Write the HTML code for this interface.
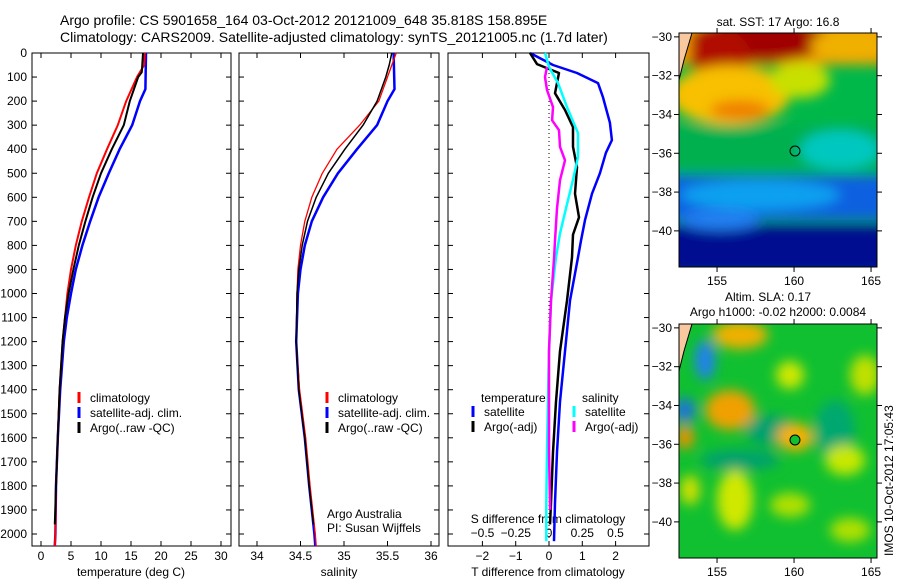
<!DOCTYPE html>
<html><head><meta charset="utf-8"><style>
body{margin:0;background:#fff}
svg{display:block;font-family:"Liberation Sans",sans-serif}
</style></head><body>
<svg id="fig" width="900" height="580" viewBox="0 0 900 580">
<defs>
<filter id="blur" x="-10%" y="-10%" width="120%" height="120%"><feGaussianBlur stdDeviation="6"/></filter>
<clipPath id="cm1"><rect x="679" y="33" width="198" height="234"/></clipPath>
<clipPath id="cm2"><rect x="679" y="324" width="198" height="234"/></clipPath>
</defs>
<text x="60" y="25" font-size="14">Argo profile: CS 5901658_164 03-Oct-2012 20121009_648 35.818S 158.895E</text>
<text x="60" y="42" font-size="14">Climatology: CARS2009. Satellite-adjusted climatology: synTS_20121005.nc (1.7d later)</text>

<g>
<text x="778" y="26" font-size="12" text-anchor="middle">sat. SST: 17 Argo: 16.8</text>
<g clip-path="url(#cm1)">
<rect x="679" y="33" width="198" height="234" fill="#00b84a"/>
<g filter="url(#blur)">
<rect x="660" y="20" width="240" height="45" fill="#f0a000"/>
<ellipse cx="760" cy="40" rx="70" ry="22" fill="#a00000"/>
<ellipse cx="720" cy="55" rx="30" ry="25" fill="#b01000"/>
<ellipse cx="850" cy="45" rx="40" ry="15" fill="#f0b000"/>
<ellipse cx="730" cy="95" rx="60" ry="30" fill="#f8c000"/>
<ellipse cx="740" cy="110" rx="30" ry="10" fill="#f08000"/>
<ellipse cx="800" cy="80" rx="30" ry="18" fill="#c8e000"/>
<rect x="660" y="125" width="240" height="45" fill="#00b050"/>
<ellipse cx="840" cy="150" rx="40" ry="20" fill="#00c8c0"/>
<rect x="660" y="175" width="240" height="45" fill="#1060e0"/>
<ellipse cx="760" cy="195" rx="80" ry="15" fill="#10a0f0"/>
<rect x="660" y="225" width="240" height="50" fill="#000c90"/>
<ellipse cx="720" cy="220" rx="40" ry="10" fill="#2080f0"/>
</g>
<polygon points="679,33 692,33 684,60 679,80" fill="#f8c8a0"/>
<polyline points="692,33 684,60 679,80" fill="none" stroke="#000" stroke-width="1"/>
</g>
<circle cx="795" cy="151" r="5" fill="none" stroke="#000" stroke-width="1"/>
<rect x="679" y="33" width="198" height="234" fill="none" stroke="#000"/>
</g>

<g>
<text x="768" y="301" font-size="12" text-anchor="middle">Altim. SLA: 0.17</text>
<text x="778" y="316" font-size="12" text-anchor="middle">Argo h1000: -0.02 h2000: 0.0084</text>
<g clip-path="url(#cm2)">
<rect x="679" y="324" width="198" height="234" fill="#10c030"/>
<g filter="url(#blur)">
<ellipse cx="740" cy="335" rx="28" ry="14" fill="#f0b000"/>
<ellipse cx="705" cy="360" rx="10" ry="20" fill="#2080f0"/>
<ellipse cx="685" cy="410" rx="10" ry="12" fill="#2070e0"/>
<ellipse cx="685" cy="437" rx="9" ry="12" fill="#f09000"/>
<ellipse cx="730" cy="410" rx="25" ry="20" fill="#f0a000"/>
<ellipse cx="770" cy="430" rx="25" ry="15" fill="#00a070"/>
<ellipse cx="795" cy="437" rx="18" ry="14" fill="#f8b000"/>
<ellipse cx="790" cy="375" rx="14" ry="14" fill="#d0e800"/>
<ellipse cx="835" cy="430" rx="20" ry="30" fill="#00a870"/>
<ellipse cx="865" cy="375" rx="15" ry="20" fill="#c0e000"/>
<ellipse cx="845" cy="460" rx="20" ry="15" fill="#c8e800"/>
<ellipse cx="735" cy="500" rx="18" ry="30" fill="#d0e800"/>
<ellipse cx="690" cy="490" rx="10" ry="15" fill="#d0e000"/>
<ellipse cx="790" cy="505" rx="20" ry="12" fill="#b0e000"/>
<ellipse cx="850" cy="530" rx="20" ry="12" fill="#b0e000"/>
<ellipse cx="740" cy="460" rx="40" ry="10" fill="#00a070"/>
</g>
<polygon points="679,324 692,324 684,351 679,371" fill="#f8c8a0"/>
<polyline points="692,324 684,351 679,371" fill="none" stroke="#000" stroke-width="1"/>
</g>
<circle cx="795" cy="440" r="5" fill="#10c030" stroke="#000" stroke-width="1"/>
<rect x="679" y="324" width="198" height="234" fill="none" stroke="#000"/>
</g>
<text transform="translate(893,556) rotate(-90)" font-size="12">IMOS 10-Oct-2012 17:05:43</text>
<g id="dyn"></g>
</svg>
<script>
const climTDepth=[0,50,100,200,300,400,500,600,700,800,900,1000,1200,1400,1600,1800,2000,2050];
const climTVal=[17.3,17.2,16,14.2,12.8,11,9.3,8,6.8,5.8,5,4.4,3.6,3.1,2.8,2.5,2.4,2.3];
const satTDepth=[0,150,200,300,400,500,600,700,800,900,1000,1100,1200,1400,1600,1800,2000,2050];
const satTVal=[17.5,17.4,16.5,15.2,13.1,11.3,9.6,8.2,6.9,5.8,5,4.3,3.8,3.2,2.8,2.5,2.4,2.3];
const argoTDepth=[0,80,100,200,300,400,500,600,700,800,900,1000,1100,1200,1400,1600,1800,1960];
const argoTVal=[17,16.8,16.2,14.8,13.8,11.8,10,8.6,7.4,6.3,5.4,4.6,4,3.6,3.1,2.8,2.5,2.3];
const climSDepth=[0,100,200,300,400,500,600,700,800,900,1000,1100,1200,1400,1600,1800,2000,2050];
const climSVal=[35.6,35.5,35.4,35.18,34.92,34.75,34.63,34.55,34.5,34.47,34.46,34.455,34.45,34.49,34.56,34.61,34.67,34.68];
const satSDepth=[0,150,200,300,400,500,600,700,800,900,1000,1200,1400,1600,1800,2000,2050];
const satSVal=[35.57,35.58,35.5,35.38,35.15,34.93,34.76,34.63,34.55,34.5,34.47,34.45,34.48,34.55,34.6,34.66,34.67];
const argoSDepth=[0,50,100,200,300,400,500,600,700,800,900,1000,1200,1400,1600,1800,1960];
const argoSVal=[35.55,35.52,35.48,35.38,35.22,35.01,34.82,34.68,34.58,34.52,34.48,34.46,34.45,34.48,34.55,34.6,34.65];
const dTSatDepth=[0,50,83,125,183,290,362,415,500,585,695,780,850,1030,1240,1450,1660,1870,2030];
const dTSatVal=[-0.57,0.12,0.84,1.47,1.62,1.83,1.89,1.71,1.53,1.29,1.08,0.96,0.87,0.63,0.48,0.33,0.24,0.18,0.15];
const dTArgoDepth=[0,46,83,167,237,308,390,475,585,683,755,850,1030,1240,1450,1660,1870,1960];
const dTArgoVal=[-0.57,-0.36,0.3,0.18,0.48,0.72,0.72,0.84,0.78,0.9,0.72,0.69,0.54,0.33,0.21,0.12,0.06,0.03];
const dSSatDepth=[0,58,125,225,333,433,529,646,750,850,1030,1240,1450,1660,1870,2030];
const dSSatVal=[-0.03,0,0.068,0.135,0.218,0.218,0.18,0.128,0.083,0.053,0.015,0,-0.008,-0.015,-0.02,-0.02];
const dSArgoDepth=[58,100,154,225,280,321,390,446,529,646,780,850,1030,1240,1450,1660,1900];
const dSArgoVal=[-0.015,-0.03,-0.015,0.03,0.023,0.075,0.083,0.12,0.083,0.06,0.045,0.038,0.015,0,0,0,0.008];
const depthTicks=[0,100,200,300,400,500,600,700,800,900,1000,1100,1200,1300,1400,1500,1600,1700,1800,1900,2000];
const tempTicks=[0,5,10,15,20,25,30];
const salTicks=[34,34.5,35,35.5,36];
const dTTicks=[-2,-1,0,1,2];
const dSTicks=[-0.5,-0.25,0,0.25,0.5];

const NS='http://www.w3.org/2000/svg';
const g=document.getElementById('dyn');
function el(t,a,p){const e=document.createElementNS(NS,t);for(const k in a)e.setAttribute(k,a[k]);(p||g).appendChild(e);return e;}
const TOP=53,BOT=546;
const yD=d=>TOP+d*0.2405;
const xT=v=>41+v*6.0;
const xS=v=>257+(v-34)*87;
const xdT=v=>549+v*33.3;
const xdS=v=>549+v*133;
const panels=[[32,231],[239,439],[448,649]];

function line(depths,vals,fx,color,w,name){
  const pts=depths.map((d,i)=>fx(vals[i]).toFixed(1)+','+yD(d).toFixed(1)).join(' ');
  const e=el('polyline',{points:pts,fill:'none',stroke:color,'stroke-width':w,'stroke-linejoin':'round'});
  
  
}
function text(x,y,s,anchor,name,size){
  const t=el('text',{x:x,y:y,'font-size':size||12,'text-anchor':anchor||'start'});
  t.textContent=s;
  
  
  return t;
}
panels.forEach((p,pi)=>{
  const r=el('rect',{x:p[0],y:TOP,width:p[1]-p[0],height:BOT-TOP,fill:'none',stroke:'#000','stroke-width':1});
  
  
  depthTicks.forEach(d=>{
    el('line',{x1:p[0],x2:p[0]+5,y1:yD(d),y2:yD(d),stroke:'#000'});
    el('line',{x1:p[1]-5,x2:p[1],y1:yD(d),y2:yD(d),stroke:'#000'});
  });
});
depthTicks.forEach(d=>text(27,yD(d)+4,String(d),'end','depth-tick-label'));
function xticks(ticks,fx,p,y,name,top){
  ticks.forEach(v=>{
    const x=fx(v);
    el('line',{x1:x,x2:x,y1:BOT,y2:BOT-5,stroke:'#000'});
    if(top) el('line',{x1:x,x2:x,y1:TOP,y2:TOP+5,stroke:'#000'});
    text(x,y,String(v).replace('-','\u2212'),'middle',name);
  });
}
xticks(tempTicks,xT,panels[0],560,'temperature-tick-label',true);
xticks(salTicks,xS,panels[1],560,'salinity-tick-label',true);
xticks(dTTicks,xdT,panels[2],560,'t-diff-tick-label',true);
dSTicks.forEach(v=>text(xdS(v),537,String(v).replace('-','\u2212'),'middle','s-diff-tick-label'));
text(131,576,'temperature (deg C)','middle','temperature-axis-title');
text(339,576,'salinity','middle','salinity-axis-title');
text(548,576,'T difference from climatology','middle','t-diff-axis-title');
text(548,523,'S difference from climatology','middle','s-diff-axis-title');
const z=el('line',{x1:549,x2:549,y1:TOP,y2:BOT,stroke:'#000','stroke-dasharray':'1,3'});


line(satTDepth,satTVal,xT,'#0000ff',2.5,'temp-satellite-line');
line(climTDepth,climTVal,xT,'#ff0000',2,'temp-climatology-line');
line(argoTDepth,argoTVal,xT,'#000',2,'temp-argo-line');
line(satSDepth,satSVal,xS,'#0000ff',2.5,'sal-satellite-line');
line(climSDepth,climSVal,xS,'#ff0000',1.3,'sal-climatology-line');
line(argoSDepth,argoSVal,xS,'#000',1.5,'sal-argo-line');
line(dTSatDepth,dTSatVal,xdT,'#0000ff',2.5,'tdiff-satellite-line');
line(dTArgoDepth,dTArgoVal,xdT,'#000',2.5,'tdiff-argo-line');
line(dSSatDepth,dSSatVal,xdS,'#00ffff',2.5,'sdiff-satellite-line');
line(dSArgoDepth,dSArgoVal,xdS,'#ff00ff',2.5,'sdiff-argo-line');
function legend(x,y,color,label,name){
  const b=el('line',{x1:x,x2:x,y1:y-10,y2:y+1,stroke:color,'stroke-width':3});
  
  
  text(x+11,y,label,'start',name);
}
[[0,'#ff0000','climatology'],[1,'#0000ff','satellite-adj. clim.'],[2,'#000','Argo(..raw -QC)']].forEach(a=>{
  legend(79,402+a[0]*15,a[1],a[2],'legend-temp-entry');
  legend(327,402+a[0]*15,a[1],a[2],'legend-sal-entry');
});
text(481,402,'temperature','start','legend-temperature-header');
text(582,402,'salinity','start','legend-salinity-header');
legend(473,416,'#0000ff','satellite','legend-tdiff-satellite');
legend(473,431,'#000','Argo(-adj)','legend-tdiff-argo');
legend(574,416,'#00ffff','satellite','legend-sdiff-satellite');
legend(574,431,'#ff00ff','Argo(-adj)','legend-sdiff-argo');
text(327,518,'Argo Australia','start','credit-line-1');
text(327,532,'PI: Susan Wijffels','start','credit-line-2');
const lats=[-30,-32,-34,-36,-38,-40];
const lons=[155,160,165];
[[33,'sst'],[324,'sla']].forEach(m=>{
  const top=m[0];
  lats.forEach(la=>{
    const y=top+(-29.8-la)*19.4;
    el('line',{x1:674,x2:679,y1:y,y2:y,stroke:'#000'});
    el('line',{x1:877,x2:882,y1:y,y2:y,stroke:'#000'});
    text(672,y+4,String(la).replace('-','\u2212'),'end',m[1]+'-lat-label');
  });
  lons.forEach(lo=>{
    const x=679+(lo-152.53)*15.4;
    el('line',{x1:x,x2:x,y1:top,y2:top-5,stroke:'#000'});
    el('line',{x1:x,x2:x,y1:top+234,y2:top+239,stroke:'#000'});
    text(x,top+252,String(lo),'middle',m[1]+'-lon-label');
  });
});
</script>
</body></html>
